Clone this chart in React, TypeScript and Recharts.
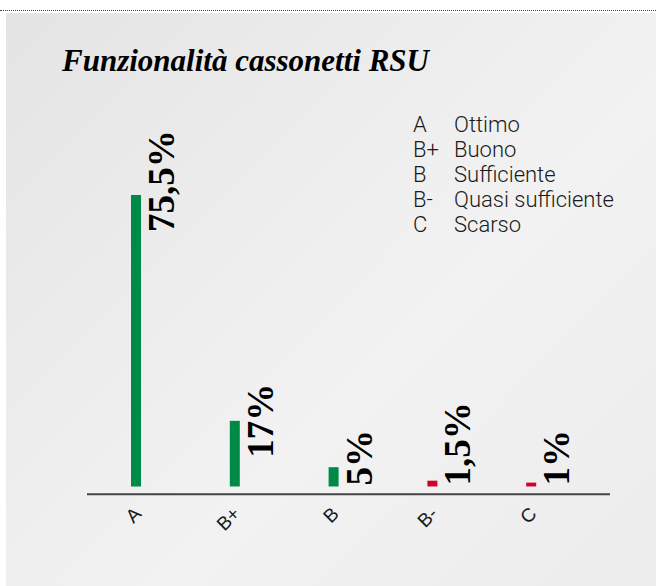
import React from "react";
import { BarChart, Bar, XAxis, YAxis, Cell, LabelList } from "recharts";

const categories = ["A", "B+", "B", "B-", "C"];
const values = [75.5, 17, 5, 1.5, 1];
const barColors = ["#008a47", "#008a47", "#008a47", "#d2002a", "#d2002a"];
const legendCodes = ["A", "B+", "B", "B-", "C"];
const legendLabels = ["Ottimo", "Buono", "Sufficiente", "Quasi sufficiente", "Scarso"];
const title = "Funzionalità cassonetti RSU";

const data = categories.map((c, i) => ({ name: c, value: values[i] }));

const W = 656;
const H = 586;

const ValueLabel = (props: any) => {
  const { x, y, width, height, value } = props;
  const bx = Number(x) + Number(width) + 33;
  const base = Number(y) + Number(height);
  const sy = Math.min(Number(y) + 37, base - 1);
  const txt = String(value).replace(".", ",") + "%";
  return (
    <text
      x={bx}
      y={sy}
      transform={`rotate(-90, ${bx}, ${sy})`}
      textAnchor="start"
      fontFamily="'Liberation Serif', 'Times New Roman', serif"
      fontWeight="bold"
      fontSize={37}
      fill="#000"
    >
      {txt}
    </text>
  );
};

const Tick = (props: any) => {
  const { x, payload } = props;
  const tx = Number(x) + 6;
  const ty = 515;
  return (
    <text
      x={tx}
      y={ty}
      transform={`rotate(-45, ${tx}, ${ty})`}
      textAnchor="end"
      fontFamily="'Liberation Sans', Arial, sans-serif"
      fontSize={19}
      fill="#1a1a1a"
    >
      {payload.value}
    </text>
  );
};

export default function App() {
  return (
    <div style={{ position: "absolute", left: 0, top: 0, width: W, height: H, background: "#fff", overflow: "hidden" }}>
      <div style={{ position: "absolute", left: 0, top: 10, width: W, height: 0, borderTop: "1px dotted #444" }} />
      <div
        style={{
          position: "absolute",
          left: 6,
          top: 13,
          width: W - 6,
          height: H - 13,
          background: "linear-gradient(135deg, #e4e4e4 0%, #efefef 45%, #f2f2f2 60%, #ececec 100%)",
        }}
      />
      <div
        style={{
          position: "absolute",
          left: 62,
          top: 44,
          fontFamily: "'Liberation Serif', 'Times New Roman', serif",
          fontWeight: "bold",
          fontStyle: "italic",
          fontSize: 31,
          lineHeight: "34px",
          color: "#000",
          whiteSpace: "nowrap",
        }}
      >
        {title}
      </div>
      <div style={{ position: "absolute", left: 0, top: 0 }}>
        <BarChart
          width={W}
          height={H}
          data={data}
          margin={{ top: 100.4, right: 46, left: 87, bottom: 61.8 }}
          barSize={10}
        >
          <YAxis hide domain={[-2, 100]} type="number" />
          <XAxis
            dataKey="name"
            height={30}
            padding={{ left: 0, right: 29 }}
            axisLine={{ stroke: "#444", strokeWidth: 2 }}
            tickLine={false}
            tick={<Tick />}
            interval={0}
          />
          <Bar dataKey="value" isAnimationActive={false}>
            {data.map((d, i) => (
              <Cell key={d.name} fill={barColors[i]} />
            ))}
            <LabelList dataKey="value" content={<ValueLabel />} />
          </Bar>
        </BarChart>
      </div>
      <div
        style={{
          position: "absolute",
          left: 413,
          top: 112,
          fontFamily: "Roboto, 'Liberation Sans', sans-serif",
          fontWeight: 300,
          fontSize: 22,
          color: "#1a1a1a",
        }}
      >
        {legendCodes.map((c, i) => (
          <div key={c} style={{ position: "relative", height: 25, lineHeight: "25px", whiteSpace: "nowrap" }}>
            <span style={{ position: "absolute", left: 0 }}>{c}</span>
            <span style={{ position: "absolute", left: 41 }}>{legendLabels[i]}</span>
          </div>
        ))}
      </div>
    </div>
  );
}
